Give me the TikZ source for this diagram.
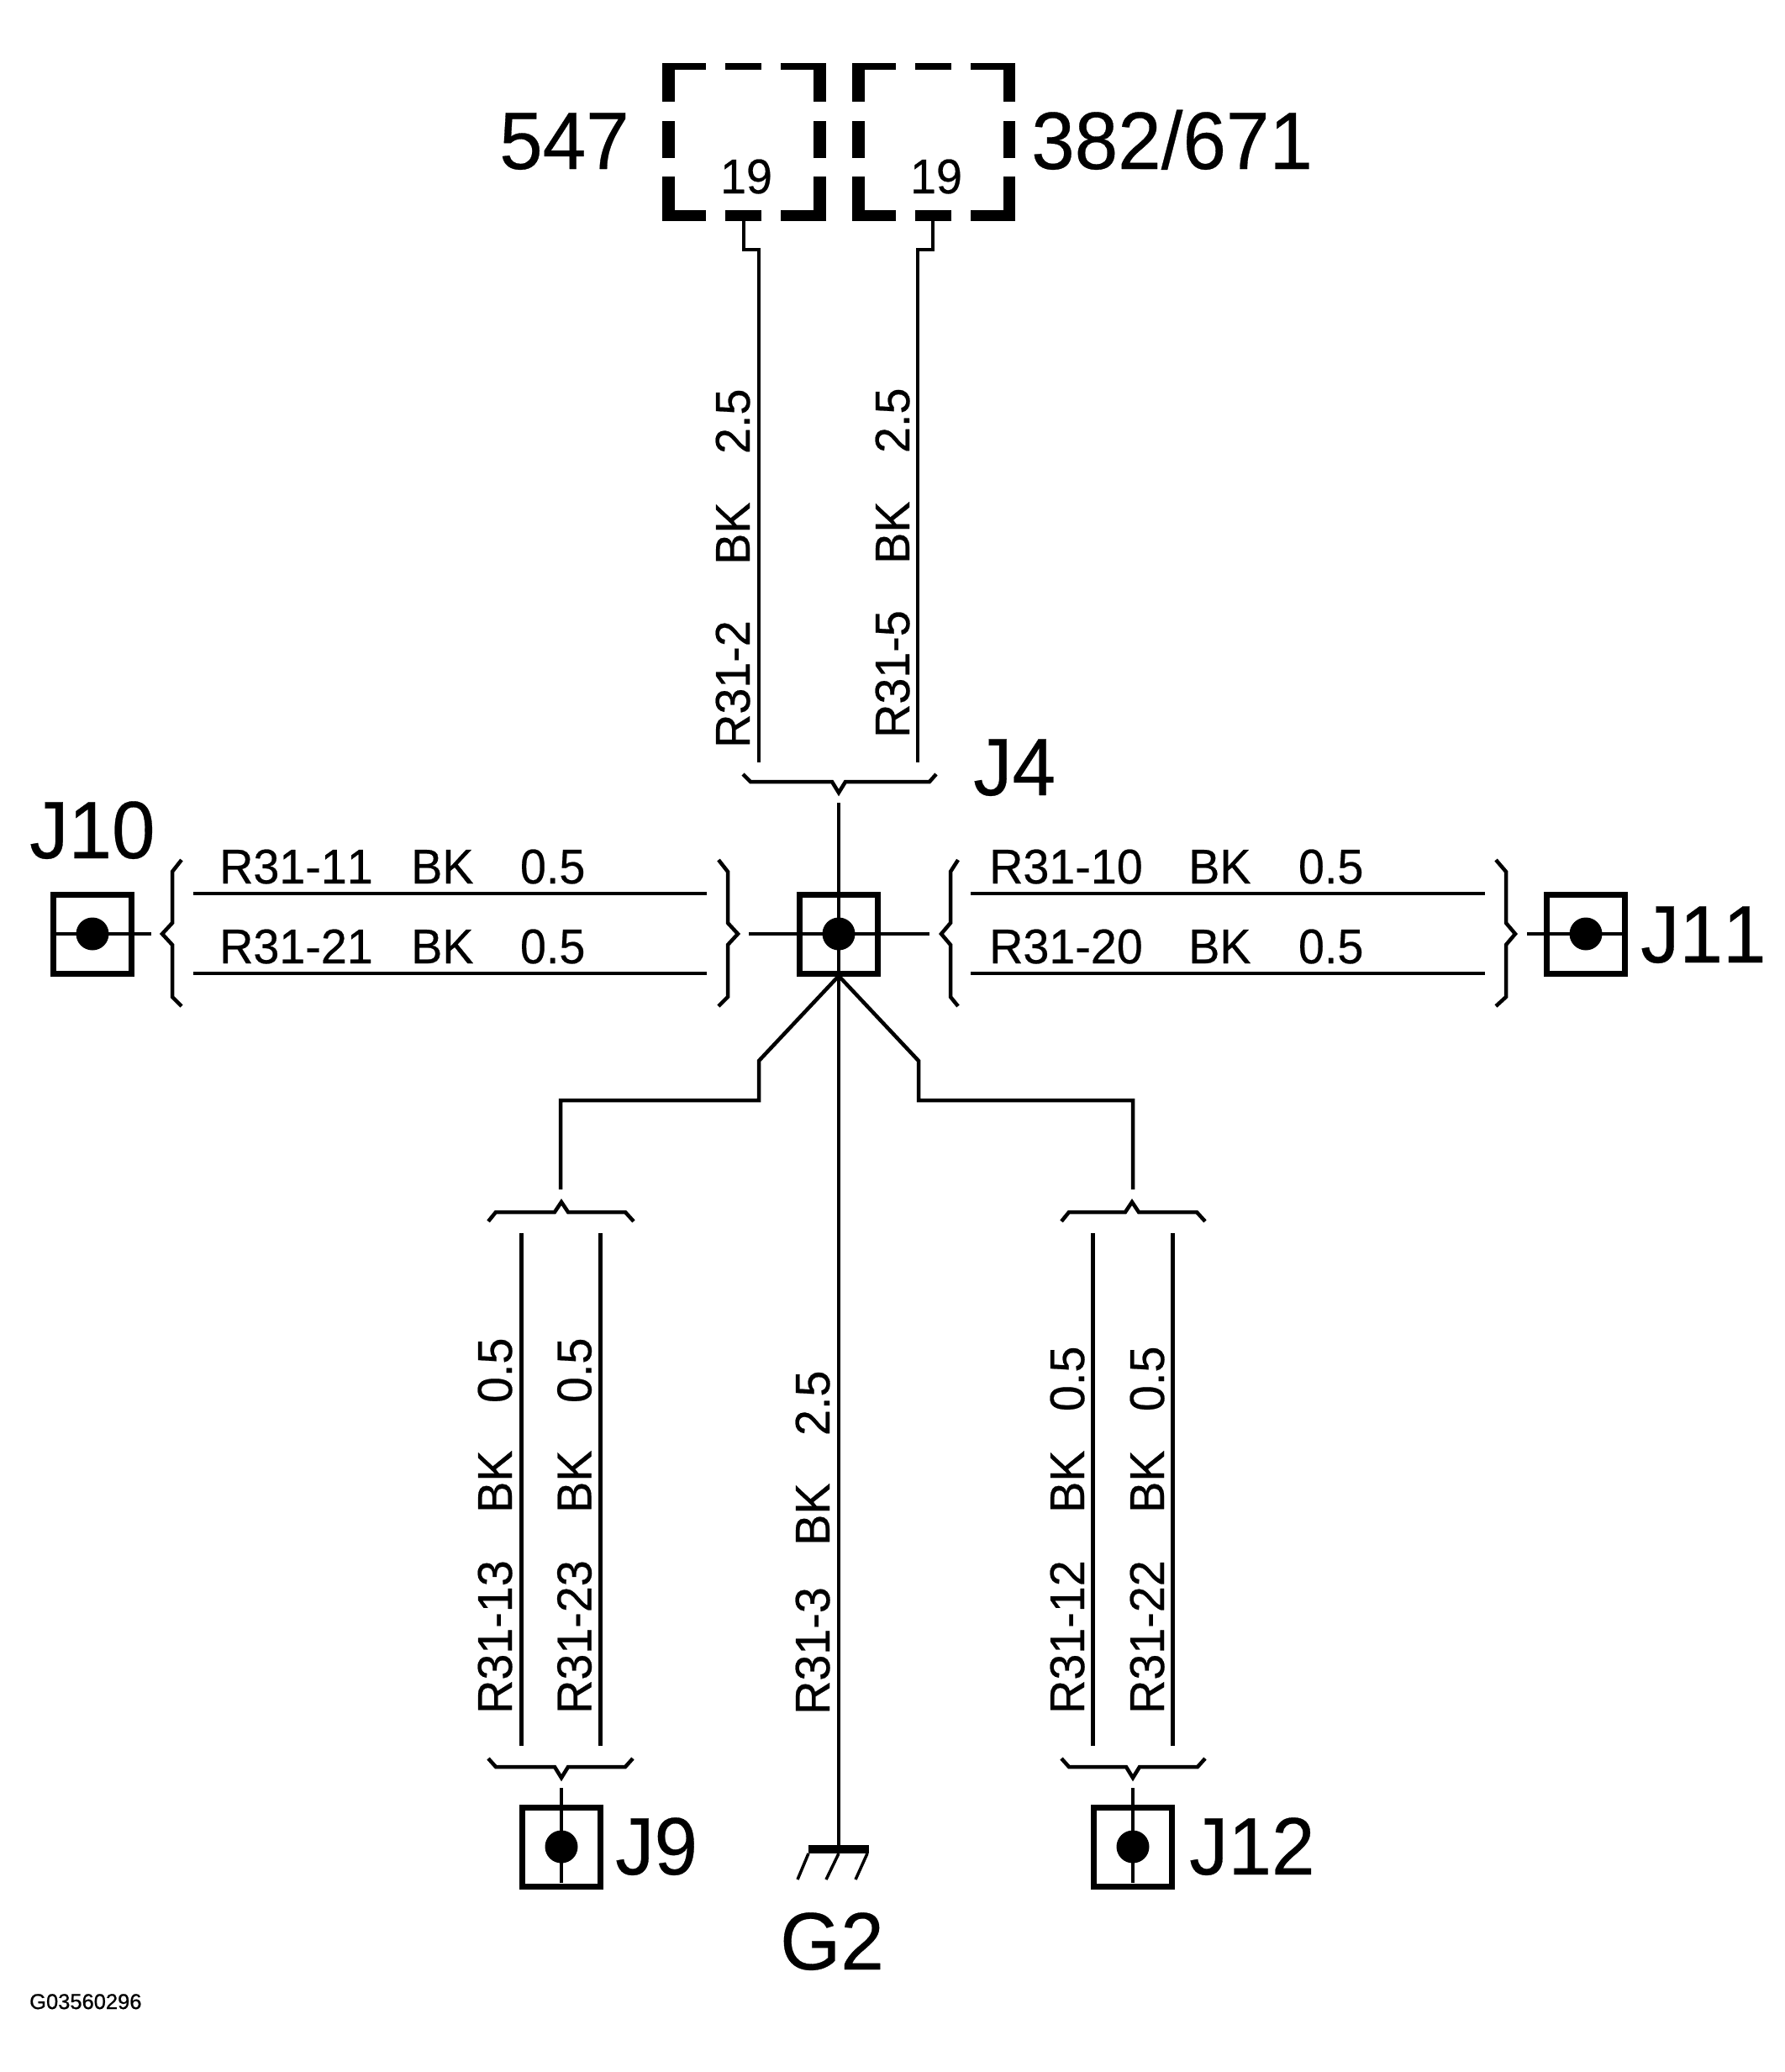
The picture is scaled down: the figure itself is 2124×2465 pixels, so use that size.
\documentclass[tikz,border=0pt]{standalone}
\usepackage{fontspec}
\setmainfont{Liberation Sans}
\newfontfamily\nf[FakeStretch=0.96,Kerning=Off,FakeBold=0.4]{Liberation Sans}
\newfontfamily\lf[FakeStretch=0.955,Kerning=Off,FakeBold=0.3]{Liberation Sans}
\newfontfamily\cf[FakeBold=0.8]{Liberation Sans}
\newcommand\gA[1]{\hspace{#1pt}}
\tikzset{
  wire/.style={line width=4.5pt,line join=miter,line cap=butt},
  conbox/.style={draw,rectangle,line width=7pt,minimum width=93pt,minimum height=94pt,inner sep=0pt,outer sep=0pt},
  dotn/.style={fill,ellipse,inner sep=0pt,minimum width=39pt,minimum height=39pt},
  big/.style={inner sep=0pt,anchor=base west,font={\lf\fontsize{97}{97}\selectfont}},
  lab/.style={inner sep=0pt,anchor=base west,font={\nf\fontsize{58}{58}\selectfont}},
  rlab/.style={lab,rotate=90},
  pinl/.style={inner sep=0pt,anchor=base,font={\nf\fontsize{58}{58}\selectfont}},
  code/.style={inner sep=0pt,anchor=base west,font={\cf\fontsize{25.5}{26}\selectfont}},
}
\usetikzlibrary{shapes.geometric}
\begin{document}
\begin{tikzpicture}[x=1pt,y=-1pt]
\useasboundingbox (0,0) rectangle (2124,2465);
% dashed relay boxes
\foreach \dx/\wd in {0/983,226/982}{
  \begin{scope}[shift={(\dx,0)}]
    \fill (788,75) rectangle (840,83);
    \fill (863,75) rectangle (906,83);
    \fill (929,75) rectangle (\wd,83);
    \fill (788,250) rectangle (840,263);
    \fill (863,250) rectangle (906,263);
    \fill (929,250) rectangle (\wd,263);
    \fill (788,75) rectangle (803,121);
    \fill (788,144) rectangle (803,188);
    \fill (788,210) rectangle (803,263);
    \fill (968,75) rectangle (\wd,121);
    \fill (968,144) rectangle (\wd,188);
    \fill (968,210) rectangle (\wd,263);
  \end{scope}
}
\node[big] (l547) at (594,201) {547};
\node[big] (l382) at (1227,201) {382/671};
\node[pinl] (p1) at (888,230) {19};
\node[pinl] (p2) at (1114,230) {19};
% named points
\coordinate (pin1) at (885,263);
\coordinate (pin2) at (1110,263);
\coordinate (w1t) at (903,297);
\coordinate (w2t) at (1092,297);
\coordinate (w1b) at (903,907);
\coordinate (w2b) at (1092,907);
\coordinate (j4tip) at (998,943);
\coordinate (j4stub) at (998,955);
% connector boxes
\node[conbox] (hubbox) at (998,1111) {};
\node[conbox] (j10box) at (110,1111) {};
\node[conbox] (j11box) at (1887,1111) {};
\node[conbox] (j9box) at (668,2197) {};
\node[conbox] (j12box) at (1348,2197) {};
\node[dotn] (hub) at (998,1111) {};
\node[dotn] (j10dot) at (110,1111) {};
\node[dotn] (j11dot) at (1887,1111) {};
\node[dotn] (j9dot) at (668,2197) {};
\node[dotn] (j12dot) at (1348,2197) {};
% wires at top
\draw[wire] (pin1) -- (885,297) -- (w1t) -- (w1b);
\draw[wire] (pin2) -- (1110,297) -- (w2t) -- (w2b);
% J4 bracket
\draw[wire] (884,921) -- (893,930) -- (990,930) -- (j4tip) -- (1006,930) -- (1106,930) -- (1114,921);
% centre line and ground
\coordinate (gnd) at (998,2197);
\draw[wire] (j4stub) -- (hub.center) -- (gnd);
\fill (962,2195) rectangle (1034,2205);
\draw[line width=3.5pt] (962,2205) -- (949,2236);
\draw[line width=3.5pt] (998,2205) -- (983,2236);
\draw[line width=3.5pt] (1032,2205) -- (1018,2236);
\node[big] (g2) at (928,2343) {G2};
% horizontal stubs
\draw[wire] (891,1111) -- (hub.center) -- (1106,1111);
\draw[wire] (66,1111) -- (j10dot.center) -- (180,1111);
\draw[wire] (1817,1111) -- (j11dot.center) -- (1931,1111);
% left group braces
\draw[wire] (216,1023) -- (205,1037) -- (205,1098) -- (193,1111) -- (205,1124) -- (205,1186) -- (216,1197);
\draw[wire] (855,1023) -- (866,1037) -- (866,1098) -- (878,1111) -- (866,1124) -- (866,1186) -- (855,1197);
% right group braces
\draw[wire] (1140,1023) -- (1131,1037) -- (1131,1098) -- (1120,1111) -- (1131,1124) -- (1131,1186) -- (1140,1197);
\draw[wire] (1780,1023) -- (1792,1037) -- (1792,1098) -- (1803,1111) -- (1792,1124) -- (1792,1186) -- (1780,1197);
% horizontal wires
\draw[wire] (230,1063) -- (841,1063);
\draw[wire] (230,1158) -- (841,1158);
\draw[wire] (1155,1063) -- (1767,1063);
\draw[wire] (1155,1158) -- (1767,1158);
\node[lab] (t11) at (261,1051) {R31-11 \gA{30}BK \gA{40}0.5};
\node[lab] (t21) at (261,1146) {R31-21 \gA{30}BK \gA{40}0.5};
\node[lab] (t10) at (1177,1051) {R31-10 \gA{39}BK \gA{41}0.5};
\node[lab] (t20) at (1177,1146) {R31-20 \gA{39}BK \gA{41}0.5};
% diagonal branches
\coordinate (hubb) at (998,1161);
\draw[wire] (hubb) -- (903,1262) -- (903,1309) -- (667,1309) -- (667,1415);
\draw[wire] (hubb) -- (1093,1262) -- (1093,1309) -- (1348,1309) -- (1348,1415);
% upper brackets of J9 / J12
\draw[wire] (581,1453) -- (590,1442) -- (660,1442) -- (668,1430) -- (676,1442) -- (744,1442) -- (754,1453);
\draw[wire] (1263,1453) -- (1272,1442) -- (1339,1442) -- (1347,1430) -- (1355,1442) -- (1424,1442) -- (1434,1453);
% vertical wires
\draw[wire] (620.5,1467) -- (620.5,2077);
\draw[wire] (714.5,1467) -- (714.5,2077);
\draw[wire] (1300.5,1467) -- (1300.5,2077);
\draw[wire] (1395.5,1467) -- (1395.5,2077);
% lower brackets
\draw[wire] (581,2092) -- (590,2102) -- (660,2102) -- (668,2115) -- (676,2102) -- (744,2102) -- (753,2092);
\draw[wire] (1263,2092) -- (1272,2102) -- (1340,2102) -- (1348,2115) -- (1356,2102) -- (1425,2102) -- (1434,2092);
\draw[wire] (668,2127) -- (j9dot.center) -- (668,2240);
\draw[wire] (1348,2127) -- (j12dot.center) -- (1348,2240);
% rotated labels
\node[rlab] (t2) at (892,890) {R31-2 \gA{51}BK \gA{42}2.5};
\node[rlab] (t5) at (1082,878) {R31-5 \gA{40}BK \gA{42}2.5};
\node[rlab] (t13) at (609,2039) {R31-13 \gA{41}BK \gA{41}0.5};
\node[rlab] (t23) at (703.5,2039) {R31-23 \gA{41}BK \gA{41}0.5};
\node[rlab] (t3) at (987,2040) {R31-3 \gA{34}BK \gA{41}2.5};
\node[rlab] (t12) at (1290,2039) {R31-12 \gA{41}BK \gA{31}0.5};
\node[rlab] (t22) at (1385,2039) {R31-22 \gA{41}BK \gA{31}0.5};
% big labels
\node[big] (lj4) at (1158,946) {J4};
\node[big] (lj10) at (35,1021) {J10};
\node[big] (lj11) at (1952,1145) {J11};
\node[big] (lj9) at (732,2230) {J9};
\node[big] (lj12) at (1415,2230) {J12};
\node[code] (lcode) at (35,2390) {G03560296};
\end{tikzpicture}
\end{document}
